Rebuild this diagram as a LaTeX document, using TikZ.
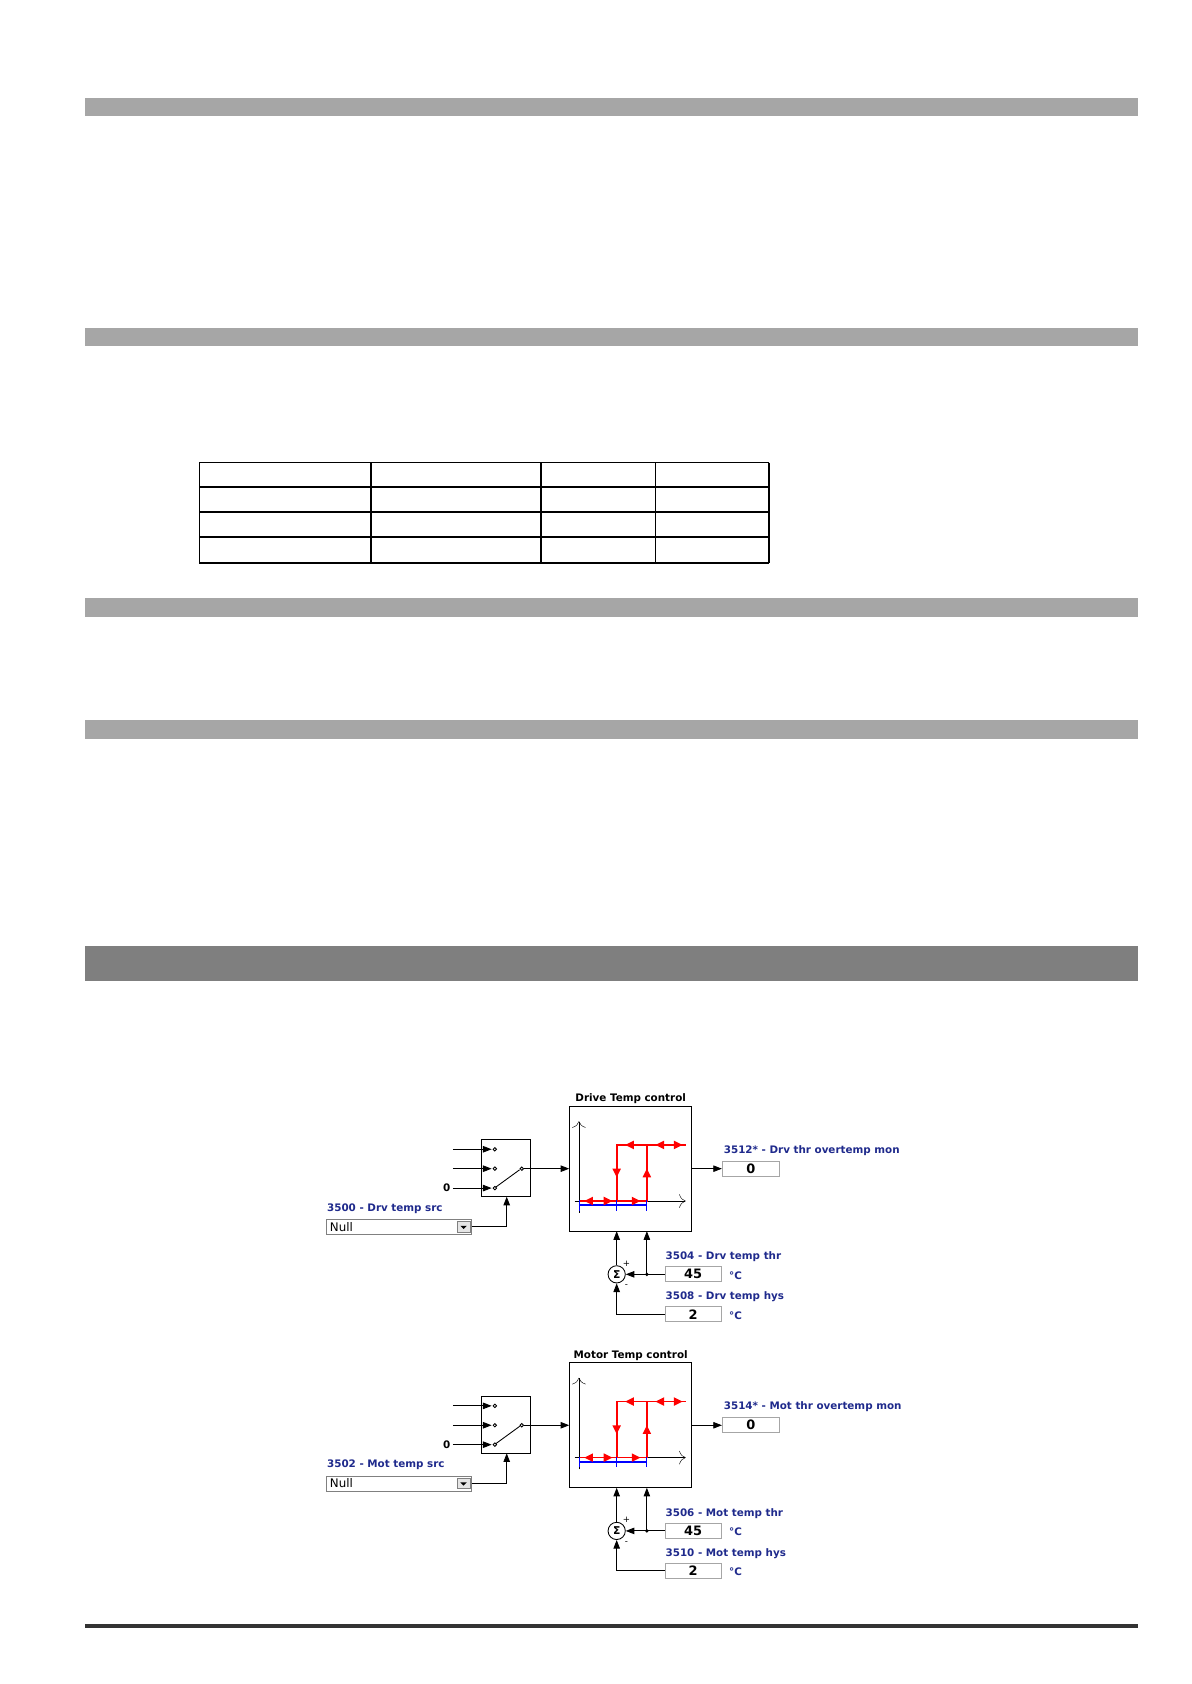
\documentclass[tikz,border=0pt]{standalone}
\usepackage{fontspec}
\setmainfont{DejaVu Sans}
\usetikzlibrary{arrows.meta}
\definecolor{lbar}{HTML}{A6A6A6}
\definecolor{dbar}{HTML}{7F7F7F}
\definecolor{pblue}{HTML}{1F2A8C}
\tikzset{
 lab/.style={font=\fontsize{4.8}{6}\selectfont\bfseries,text=pblue,anchor=west,inner sep=0},
 vbox/.style={draw=gray!70,fill=white,font=\fontsize{6}{7}\selectfont\bfseries,inner sep=0},
 ar/.style={-{Triangle[length=4pt,width=3pt]},thin},
}
\newcommand{\tempblk}[7]{%
\begin{scope}[yshift=#1]
\node[font=\fontsize{4.8}{6}\selectfont\bfseries,anchor=south,inner sep=1] (#2t) at (585,1026) {#3};
\draw[thin] (528,1026) rectangle (641,1142);
\draw[thin] (447,1057) rectangle (492,1110);
\foreach \yy in {1066,1084,1102}{\draw[ar] (420,\yy) -- (456,\yy); \draw[fill=white] (459,\yy) circle (1.6);}
\node[font=\fontsize{4.8}{6}\selectfont\bfseries,anchor=east,inner sep=1] at (420,1102) {0};
\draw[thin] (460,1101) -- (482,1085); \draw[fill=white] (484,1084) circle (1.6);
\draw[ar] (486,1084) -- (528,1084);
% graph
\draw[-{To[length=3pt]},very thin] (537,1125) -- (537,1040);
\draw[-{To[length=3pt]},very thin] (533,1114) -- (636,1114);
\draw[red,thick] (537,1114) -- (600,1114) -- (600,1062);
\draw[red,thick] (636,1062) -- (572,1062) -- (572,1114);
\draw[blue,thick] (537,1118) -- (600,1118);
\foreach \xx in {537,572,600}{\draw[blue] (\xx,1113) -- (\xx,1123);}
\fill[red] (542,1114) -- (550,1110) -- (550,1118) -- cycle;
\fill[red] (568,1114) -- (560,1110) -- (560,1118) -- cycle;
\fill[red] (594,1114) -- (586,1110) -- (586,1118) -- cycle;
\fill[red] (580,1062) -- (588,1058) -- (588,1066) -- cycle;
\fill[red] (608,1062) -- (616,1058) -- (616,1066) -- cycle;
\fill[red] (633,1062) -- (625,1058) -- (625,1066) -- cycle;
\fill[red] (572,1092) -- (568,1084) -- (576,1084) -- cycle;
\fill[red] (600,1084) -- (596,1092) -- (604,1092) -- cycle;
% output
\node[vbox,minimum width=53*0.5pt,minimum height=14*0.5pt] (#2o) at (696.5,1084) {0};
\draw[ar] (641,1084) -- (#2o.west);
\node[lab] at (671,1067) {#4};
% source
\node[lab] at (303,1121) {#5};
\node[draw=gray,fill=white,minimum width=134*0.5pt,minimum height=14*0.5pt,inner sep=0] (#2dd) at (370,1138) {};
\node[font=\fontsize{5.5}{7}\selectfont,anchor=west,inner sep=1.5] at (#2dd.west) {Null};
\draw[fill=gray!20,draw=gray] (424,1133) rectangle (436,1143);
\fill (427,1137) -- (433,1137) -- (430,1140) -- cycle;
\draw[ar] (#2dd.east) -- (470,1138) -- (470,1110);
% sum
\node[draw,circle,minimum size=16*0.5pt,inner sep=0,font=\fontsize{5}{5}\selectfont\bfseries] (#2s) at (572,1182) {Σ};
\node[font=\fontsize{4}{4}\selectfont,inner sep=0] at (581,1172) {+};
\node[font=\fontsize{4}{4}\selectfont,inner sep=0] at (581,1193) {-};
\draw[ar] (#2s.north) -- (572,1142);
\node[vbox,minimum width=52*0.5pt,minimum height=14*0.5pt] (#2a) at (643,1182) {45};
\draw[ar] (#2a.west) -- (#2s.east);
\fill (600,1182) circle (1.8);
\draw[ar] (600,1182) -- (600,1142);
\node[lab] at (617,1166) {#6};
\node[lab,font=\fontsize{4.8}{6}\selectfont\bfseries] at (676,1183) {°C};
\node[vbox,minimum width=52*0.5pt,minimum height=14*0.5pt] (#2b) at (643,1219) {2};
\draw[ar] (#2b.west) -- (572,1219) -- (#2s.south);
\node[lab] at (617,1203) {#7};
\node[lab,font=\fontsize{4.8}{6}\selectfont\bfseries] at (676,1220) {°C};
\end{scope}}
\begin{document}
\begin{tikzpicture}[x=0.5pt,y=-0.5pt]
\useasboundingbox (0,0) rectangle (1105,1562);
\foreach \yy in {91,304,555,668}{\fill[lbar] (79,\yy) rectangle (1056,\yy+17);}
\fill[dbar] (79,877) rectangle (1056,910);
\foreach \xx in {185,344,502,608,713}{\draw[thick] (\xx,429) -- (\xx,522);}
\foreach \yy in {429,452,475,498,522}{\draw[thick] (185,\yy) -- (713,\yy);}
\fill[black!80] (79,1506) rectangle (1056,1510);
\tempblk{0}{d}{Drive Temp control}{3512* - Drv thr overtemp mon}{3500 - Drv temp src}{3504 - Drv temp thr}{3508 - Drv temp hys}
\tempblk{-238*0.5pt}{m}{Motor Temp control}{3514* - Mot thr overtemp mon}{3502 - Mot temp src}{3506 - Mot temp thr}{3510 - Mot temp hys}
\end{tikzpicture}
\end{document}
